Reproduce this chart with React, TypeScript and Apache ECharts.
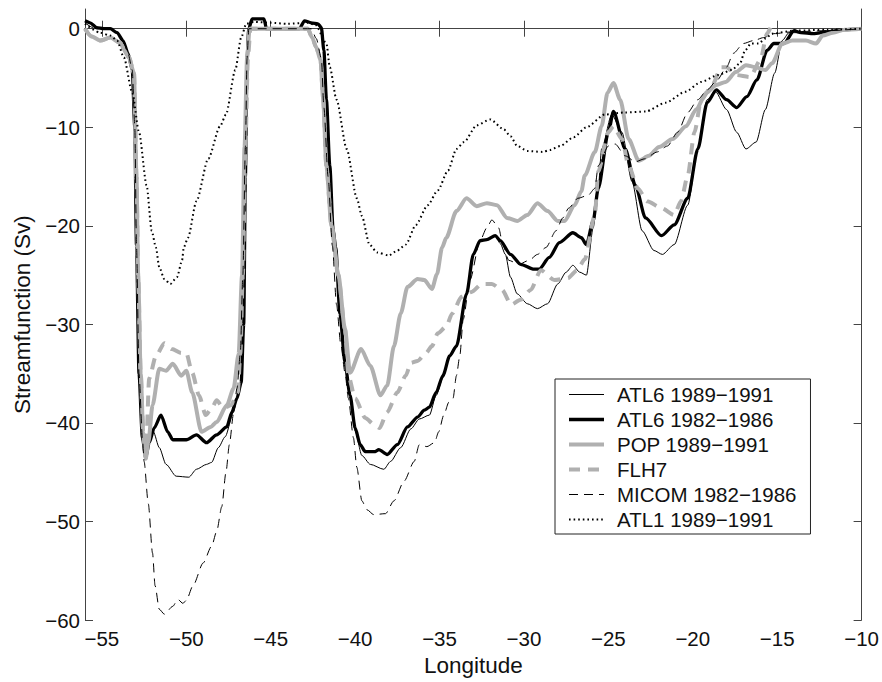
import React, { useEffect, useRef } from "react";
import * as echarts from "echarts";

const FONT = '"Liberation Sans", Arial, Helvetica, sans-serif';

const seriesNames = [
  "ATL6 1989\u22121991",
  "ATL6 1982\u22121986",
  "POP 1989\u22121991",
  "FLH7",
  "MICOM 1982\u22121986",
  "ATL1 1989\u22121991",
];

const xTicks = [-55, -50, -45, -40, -35, -30, -25, -20, -15, -10];
const yTicks = [-60, -50, -40, -30, -20, -10, 0];

// [longitude, streamfunction (Sv)]
const atl6_89_91: number[][] = [
  [-56, 0.8], [-55.7, 0.6], [-55.3, 0.1], [-54.9, 0], [-54.5, 0], [-54.1, -0.4], [-53.75, -1.2],
  [-53.45, -2.5], [-53.2, -4.2], [-53.05, -10], [-52.95, -22], [-52.8, -35], [-52.6, -41.5],
  [-52.4, -43.5], [-52.2, -42], [-51.95, -40.9], [-51.6, -42.5], [-51.2, -44.2], [-50.6, -45.4],
  [-49.85, -45.5], [-49.4, -44.7], [-48.8, -44.2], [-48.5, -44.0], [-48.1, -42.5], [-47.7, -41.4],
  [-47.2, -38.9], [-47.0, -37.5], [-46.75, -35.9], [-46.6, -30], [-46.5, -15], [-46.4, -3],
  [-46.3, 0], [-46.1, 1.0], [-45.4, 1.0], [-45.25, 0], [-43.3, 0], [-43.0, 0.8], [-42.6, 0.6],
  [-42.2, 0.5], [-42.0, 0.1], [-41.85, -2.2], [-41.7, -7.2], [-41.5, -13.9], [-41.3, -20.5],
  [-41.15, -22.2], [-40.9, -28.9], [-40.6, -33.9], [-40.3, -37.2], [-40.0, -40.8], [-39.6, -43.3],
  [-39.1, -44.2], [-38.3, -44.7], [-37.9, -43.9], [-37.3, -42.5], [-36.7, -40.6], [-36.2, -39.6],
  [-35.6, -39.2], [-35.2, -37.2], [-34.8, -35.4], [-34.4, -33.3], [-34.0, -32.3], [-33.4, -27],
  [-33.0, -23], [-32.6, -21.5], [-32.2, -21.4], [-31.7, -21.0], [-31.4, -21.8], [-31.1, -22.9],
  [-30.8, -25.2], [-30.4, -26.9], [-29.8, -27.9], [-29.2, -28.4], [-28.6, -27.9], [-28.0, -25.9],
  [-27.5, -24.7], [-27.1, -24.0], [-26.7, -24.7], [-26.3, -25.0], [-25.9, -20.2], [-25.6, -16.2],
  [-25.4, -12.2], [-24.8, -8.7], [-24.2, -10.5], [-23.6, -15.5], [-23.0, -20.5], [-22.3, -22.5],
  [-21.8, -22.9], [-21.1, -21.9], [-20.3, -17.9], [-19.7, -12.2], [-19.15, -7.2], [-18.65, -6.4],
  [-18.0, -8.2], [-17.4, -10.5], [-16.85, -12.2], [-16.25, -11.5], [-15.7, -8.2], [-15.15, -4.5],
  [-14.7, -1.2], [-14.3, -0.4], [-13.6, -0.4], [-12.85, -0.5], [-12, -0.3], [-11, -0.1], [-10, 0],
];

const atl6_82_86: number[][] = [
  [-56, 0.8], [-55.7, 0.6], [-55.3, 0.1], [-54.9, 0], [-54.5, 0], [-54.1, -0.4], [-53.75, -1.2],
  [-53.45, -2.5], [-53.2, -4.2], [-53.05, -10], [-52.95, -22], [-52.8, -35], [-52.6, -41.5],
  [-52.4, -43.5], [-52.2, -42], [-51.9, -40.5], [-51.5, -39.2], [-51.1, -40.9], [-50.8, -41.7],
  [-50.0, -41.7], [-49.4, -41.2], [-48.8, -42.0], [-48.2, -41.2], [-47.6, -40.4], [-47.3, -38.9],
  [-47.0, -37.5], [-46.75, -35.9], [-46.6, -30], [-46.5, -15], [-46.4, -3], [-46.3, 0],
  [-46.1, 1.0], [-45.4, 1.0], [-45.25, 0], [-43.3, 0], [-43.0, 0.8], [-42.6, 0.6], [-42.2, 0.5],
  [-42.0, 0.1], [-41.85, -2.2], [-41.7, -7.2], [-41.5, -13.9], [-41.3, -20.5], [-41.15, -22.2],
  [-40.9, -28.9], [-40.6, -33.9], [-40.3, -37.2], [-40.0, -40.5], [-39.7, -42.2], [-39.4, -42.9],
  [-38.8, -42.9], [-38.6, -42.7], [-38.1, -43.2], [-37.5, -42.2], [-36.9, -40.4], [-36.3, -39.4],
  [-35.9, -38.7], [-35.6, -38.4], [-35.2, -36.9], [-34.8, -35.2], [-34.4, -33.2], [-34.0, -32.2],
  [-33.4, -26.9], [-33.0, -22.9], [-32.6, -21.5], [-32.2, -21.4], [-31.7, -21.0], [-31.4, -21.5],
  [-30.8, -22.9], [-30.2, -23.9], [-29.4, -24.4], [-29.1, -24.4], [-28.5, -23.2], [-27.9, -21.7],
  [-27.1, -20.7], [-26.6, -21.2], [-26.3, -21.9], [-25.9, -19.5], [-25.6, -16.2], [-25.0, -10.5],
  [-24.7, -8.4], [-24.0, -12.2], [-23.4, -15.9], [-22.8, -19.2], [-21.85, -21.0], [-21.1, -19.9],
  [-20.3, -17.2], [-19.7, -12.2], [-19.15, -7.5], [-18.6, -6.2], [-18.0, -7.2], [-17.4, -8.0],
  [-16.8, -6.9], [-16.2, -5.2], [-15.6, -2.2], [-15.2, -1.5], [-14.6, -1.5], [-14.0, -0.2],
  [-13.6, -0.4], [-12.85, -0.5], [-12, -0.3], [-11, -0.1], [-10, 0],
];

const pop_89_91: number[][] = [
  [-56, 0], [-55.6, -0.8], [-55.1, -1.2], [-54.5, -0.9], [-53.95, -1.4], [-53.4, -2.9],
  [-53.1, -4.5], [-52.95, -15], [-52.85, -25], [-52.7, -35], [-52.55, -41], [-52.4, -43.6],
  [-52.25, -42], [-52.0, -38.2], [-51.6, -34.5], [-51.2, -34.7], [-50.8, -34.0], [-50.3, -35.2],
  [-50.0, -34.7], [-49.65, -36.9], [-49.1, -40.9], [-48.55, -40.4], [-48.2, -39.9], [-47.6, -38.2],
  [-47.2, -36.5], [-46.9, -33], [-46.7, -25], [-46.55, -12], [-46.4, -3], [-46.25, 0], [-42.8, 0],
  [-42.55, -0.9], [-42.3, -1.9], [-42.05, -3.2], [-41.9, -7], [-41.7, -14], [-41.4, -20],
  [-41.0, -24.9], [-40.6, -30.5], [-40.3, -34.9], [-39.65, -32.5], [-39.1, -34.2], [-38.5, -37.2],
  [-38.1, -36.2], [-37.7, -32.2], [-37.3, -28.9], [-36.9, -26.2], [-36.3, -25.4], [-35.9, -25.5],
  [-35.45, -26.4], [-35.15, -24.9], [-34.85, -22.2], [-34.6, -21.2], [-34.0, -18.5], [-33.4, -17.2],
  [-32.8, -18.0], [-32.2, -17.7], [-31.6, -17.9], [-31.0, -19.2], [-30.4, -19.5], [-29.8, -18.9],
  [-29.2, -17.7], [-28.6, -18.5], [-28.0, -19.5], [-27.6, -19.5], [-27.0, -17.9], [-26.6, -16.5],
  [-26.4, -14.9], [-25.8, -12.5], [-25.4, -9.9], [-25.05, -6.5], [-24.7, -5.5], [-24.3, -7.2],
  [-23.8, -11.2], [-23.2, -13.4], [-22.6, -12.9], [-22.0, -12.0], [-21.2, -11.2], [-20.4, -9.9],
  [-19.8, -8.2], [-19.2, -6.5], [-18.6, -5.7], [-18.05, -5.4], [-17.45, -4.4], [-16.85, -3.7],
  [-16.3, -3.9], [-15.7, -4.2], [-15.3, -3.5], [-14.7, -1.5], [-14.1, -1.2], [-13.3, -1.2],
  [-12.7, -1.5], [-12.3, -0.7], [-11.7, -0.4], [-11, -0.1], [-10, 0],
];

const flh7: number[][] = [
  [-56, 0], [-55.6, -0.8], [-55.1, -1.2], [-54.5, -0.9], [-53.95, -1.4], [-53.4, -2.9],
  [-53.1, -4.5], [-52.95, -15], [-52.85, -25], [-52.7, -35], [-52.55, -41], [-52.4, -43.6],
  [-52.2, -35.5], [-51.8, -33.2], [-51.3, -31.9], [-50.85, -32.5], [-50.3, -32.9], [-50.0, -32.9],
  [-49.65, -34.9], [-49.25, -37.2], [-48.85, -39.2], [-48.5, -38.5], [-48.2, -37.7], [-47.8, -38.5],
  [-47.35, -38.2], [-46.95, -36.9], [-46.8, -33], [-46.65, -25], [-46.5, -12], [-46.35, -3],
  [-46.2, 0], [-42.8, 0], [-42.55, -0.9], [-42.3, -1.9], [-42.05, -3.2], [-41.9, -7], [-41.7, -14],
  [-41.4, -20], [-41.0, -25], [-40.6, -30.5], [-40.4, -35.2], [-40.0, -37.5], [-39.4, -39.5],
  [-38.85, -40.2], [-38.55, -40.5], [-38.1, -38.9], [-37.5, -36.9], [-37.0, -35.2], [-36.7, -33.9],
  [-36.3, -33.7], [-35.8, -32.9], [-35.45, -32.2], [-35.1, -30.9], [-34.6, -30.2], [-34.25, -28.9],
  [-33.7, -27.2], [-33.1, -26.7], [-32.5, -25.9], [-31.9, -25.9], [-31.3, -26.5], [-30.75, -28.0],
  [-30.2, -27.5], [-29.6, -26.5], [-29.0, -24.5], [-28.2, -25.5], [-27.4, -25.3], [-26.85, -24.5],
  [-26.4, -23.4], [-25.8, -18.9], [-25.6, -14.5], [-25.0, -10.5], [-24.7, -9.9], [-24.2, -11.2],
  [-23.8, -13.9], [-23.25, -16.2], [-22.7, -17.5], [-21.85, -18.2], [-21.1, -18.9], [-20.7, -17.5],
  [-20.3, -14.9], [-19.9, -10.5], [-19.5, -7.2], [-18.9, -5.9], [-18.3, -3.9], [-18.0, -3.9],
  [-17.45, -4.7], [-16.6, -4.9], [-16.0, -3.2], [-15.6, -0.5], [-15.4, 0.1],
];

const micom_82_86: number[][] = [
  [-56, 0.6], [-55.5, 0.1], [-54.5, 0], [-54.1, -0.4], [-53.75, -1.2], [-53.45, -2.5], [-53.2, -4.2],
  [-53.05, -10], [-52.95, -22], [-52.8, -35], [-52.6, -41.5], [-52.5, -43.9], [-52.25, -48.2],
  [-52.0, -53.2], [-51.85, -56.5], [-51.6, -58.9], [-51.3, -59.4], [-50.8, -58.6], [-50.5, -57.9],
  [-50.2, -58.3], [-50.0, -58.0], [-49.6, -56.5], [-49.0, -54.2], [-48.5, -52.5], [-48.2, -51.0],
  [-47.9, -48.5], [-47.65, -45.0], [-47.45, -42.2], [-47.2, -39], [-47.0, -36.5], [-46.8, -33],
  [-46.65, -25], [-46.5, -12], [-46.4, -3], [-46.3, 0], [-42.6, 0], [-42.3, -1], [-42.0, -3],
  [-41.85, -8], [-41.6, -15], [-41.35, -22], [-41.1, -28], [-40.85, -32], [-40.6, -34.9],
  [-40.4, -37.5], [-40.1, -41.5], [-39.9, -44.5], [-39.6, -47.9], [-39.3, -48.8], [-38.9, -49.3],
  [-38.2, -49.2], [-37.7, -47.9], [-37.1, -45.9], [-36.5, -43.9], [-36.2, -42.2], [-35.75, -42.4],
  [-35.3, -42.0], [-35.05, -40.9], [-34.75, -39.2], [-34.45, -37.9], [-34.2, -37.5], [-34.0, -35.2],
  [-33.8, -33.2], [-33.6, -29.5], [-33.2, -25.5], [-32.6, -21.5], [-32.2, -20.2], [-31.9, -19.4],
  [-31.5, -20.2], [-31.25, -21.9], [-30.9, -23.5], [-30.3, -23.9], [-29.7, -23.5], [-29.2, -22.9],
  [-28.7, -22.2], [-28.1, -20.5], [-27.7, -19.2], [-27.35, -18.2], [-26.8, -17.2], [-26.2, -16.9],
  [-25.8, -16.2], [-25.6, -13.9], [-25.0, -11.9], [-24.6, -11.7], [-24.0, -12.9], [-23.4, -13.5],
  [-22.85, -13.2], [-22.1, -12.5], [-21.5, -11.9], [-20.9, -10.5], [-20.3, -8.5], [-19.7, -7.2],
  [-19.15, -6.2], [-18.55, -5.2], [-18.0, -3.9], [-17.6, -2.5], [-17.0, -1.5], [-16.4, -1.2],
  [-15.8, -0.9], [-15.2, -0.5], [-14, -0.3], [-12, -0.2], [-10, 0],
];

const atl1_89_91: number[][] = [
  [-56, 0.5], [-55.1, -0.4], [-54.5, -0.7], [-54.1, -1.2], [-53.7, -2.9], [-53.2, -6.5],
  [-52.8, -10.5], [-52.35, -15.9], [-52.05, -20.5], [-51.8, -22.2], [-51.6, -24.2], [-51.3, -25.4],
  [-50.95, -25.9], [-50.55, -25.2], [-50.25, -23.5], [-50.15, -22.2], [-49.9, -21.2], [-49.4, -17.5],
  [-48.7, -13.2], [-48.0, -9.9], [-47.65, -8.7], [-47.1, -4.2], [-46.75, -0.9], [-46.45, 0.5],
  [-46.0, 0.7], [-45.0, 0.6], [-44.0, 0.5], [-42.8, 0.6], [-42.35, 0.4], [-41.7, -1.5],
  [-41.5, -3.9], [-41.1, -7.2], [-40.5, -12.2], [-39.9, -17.2], [-39.6, -19.0], [-39.15, -21.9],
  [-38.7, -22.7], [-38.0, -23.0], [-37.5, -22.5], [-37.0, -21.9], [-36.4, -19.9], [-35.7, -17.9],
  [-35.1, -16.4], [-34.5, -14.4], [-34.0, -12.2], [-33.55, -11.5], [-32.8, -9.8], [-32.0, -9.2],
  [-31.2, -10.2], [-30.8, -10.9], [-30.4, -11.9], [-29.8, -12.4], [-28.9, -12.5], [-28.45, -12.3],
  [-27.85, -11.9], [-27.05, -11.0], [-26.3, -10.0], [-25.2, -8.7], [-24.0, -8.5], [-22.8, -8.4],
  [-21.6, -7.5], [-20.45, -6.4], [-19.5, -5.4], [-18.5, -4.7], [-17.7, -4.2], [-17.2, -3.5],
  [-16.9, -2.2], [-16.55, -1.5], [-16.1, -1.5], [-15.7, -1.0], [-15.3, -0.5], [-14, -0.2],
  [-12, -0.1], [-10, 0],
];

const GRAY = "#b0b0b0";

const minusFmt = (v: number) => String(v).replace("-", "\u2212");

export default function App() {
  const ref = useRef<HTMLDivElement>(null);

  useEffect(() => {
    if (!ref.current) return;
    const chart = echarts.init(ref.current, undefined, { renderer: "svg" });

    const axisLine = { show: true, lineStyle: { color: "#444", width: 1 } };
    const tick = (vals: number[]) => ({
      show: true,
      inside: true,
      length: 8,
      customValues: vals,
      lineStyle: { color: "#444", width: 1 },
    });

    const mkLine = (
      name: string,
      data: number[][],
      color: string,
      width: number,
      type: any,
      z: number
    ) => ({
      name,
      type: "line",
      data,
      symbol: "none",
      showSymbol: false,
      smooth: 0.25,
      smoothMonotone: "x",
      z,
      lineStyle: { color, width, type, cap: "butt", join: "round" },
      itemStyle: { color },
      emphasis: { disabled: true },
    });

    chart.setOption({
      animation: false,
      backgroundColor: "#ffffff",
      textStyle: { fontFamily: FONT },
      grid: { left: 85, right: 14, top: 9, bottom: 54, containLabel: false },
      xAxis: [
        {
          type: "value",
          min: -56,
          max: -10,
          position: "bottom",
          name: "Longitude",
          nameLocation: "middle",
          nameGap: 23,
          nameTextStyle: { fontSize: 22.5, color: "#111", fontFamily: FONT },
          axisLine,
          axisTick: tick(xTicks),
          axisLabel: {
            customValues: xTicks,
            formatter: minusFmt,
            fontSize: 20.5,
            color: "#111",
            margin: 8,
            fontFamily: FONT,
          },
          splitLine: { show: false },
        },
        {
          type: "value",
          min: -56,
          max: -10,
          position: "top",
          axisLine,
          axisTick: tick(xTicks),
          axisLabel: { show: false },
          splitLine: { show: false },
        },
      ],
      yAxis: [
        {
          type: "value",
          min: -60,
          max: 2,
          position: "left",
          name: "Streamfunction (Sv)",
          nameLocation: "middle",
          nameGap: 51,
          nameTextStyle: { fontSize: 22.5, color: "#111", fontFamily: FONT },
          axisLine,
          axisTick: tick(yTicks),
          axisLabel: {
            customValues: yTicks,
            formatter: minusFmt,
            fontSize: 20.5,
            color: "#111",
            margin: 5,
            fontFamily: FONT,
          },
          splitLine: { show: false },
        },
        {
          type: "value",
          min: -60,
          max: 2,
          position: "right",
          axisLine,
          axisTick: tick(yTicks),
          axisLabel: { show: false },
          splitLine: { show: false },
        },
      ],
      legend: {
        orient: "vertical",
        left: 555,
        top: 379,
        itemWidth: 35,
        itemHeight: 12,
        itemGap: 4,
        padding: [5, 14, 4, 12],
        borderColor: "#222",
        borderWidth: 1,
        backgroundColor: "#fff",
        selectedMode: false,
        itemStyle: { color: "rgba(0,0,0,0)", opacity: 0, borderWidth: 0 },
        lineStyle: { width: "inherit", type: "inherit", color: "inherit" },
        textStyle: {
          fontSize: 20.5,
          lineHeight: 20,
          color: "#111",
          fontFamily: FONT,
          padding: [0, 0, 0, 8],
        },
        data: seriesNames,
      },
      series: [
        mkLine(seriesNames[0], atl6_89_91, "#000", 1, "solid", 2),
        mkLine(seriesNames[1], atl6_82_86, "#000", 3.3, "solid", 3),
        mkLine(seriesNames[2], pop_89_91, GRAY, 4, "solid", 4),
        mkLine(seriesNames[3], flh7, GRAY, 4, [11, 8], 5),
        mkLine(seriesNames[4], micom_82_86, "#000", 1, [9, 6], 6),
        mkLine(seriesNames[5], atl1_89_91, "#000", 2, [1.6, 3], 7),
      ],
    });

    return () => chart.dispose();
  }, []);

  return (
    <div
      ref={ref}
      style={{ position: "fixed", left: 0, top: 0, width: 882, height: 682, background: "#fff" }}
    />
  );
}
